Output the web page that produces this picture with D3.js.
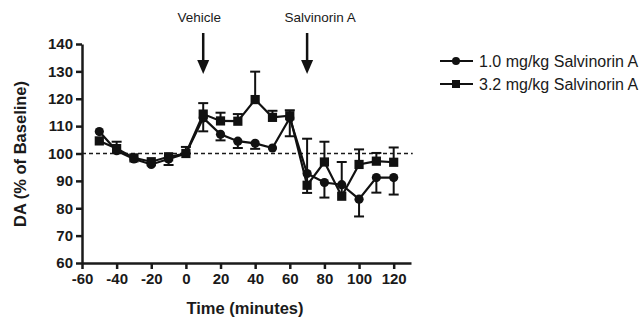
<!DOCTYPE html>
<html>
<head>
<meta charset="utf-8">
<script src="https://cdn.jsdelivr.net/npm/d3@7"></script>
<style>
  body { margin: 0; background: #fff; }
  text { font-family: "Liberation Sans", Arial, sans-serif; fill: #1a1a1a; }
</style>
</head>
<body>
<svg id="chart" width="642" height="317"></svg>
<script>
  var times = [-50, -40, -30, -20, -10, 0, 10, 20, 30, 40, 50, 60, 70, 80, 90, 100, 110, 120];

  // 1.0 mg/kg Salvinorin A (circles)
  var lowDose     = [108, 101, 98, 96, 98, 100, 113, 107, 104.5, 103.7, 102, 113, 92.7, 89.4, 88.6, 83.3, 91.2, 91.2];
  var lowDoseUp   = [0, 0, 0, 0, 0, 0, 0, 0, 0, 0, 0, 0, 0, 0, 0, 0, 0, 0];
  var lowDoseDown = [0, 0, 0, 0, 0, 0, 0, 2.2, 2.5, 2, 0, 0, 0, 5.5, 0, 6.3, 5.5, 6.2];

  // 3.2 mg/kg Salvinorin A (squares)
  var highDose     = [104.6, 101.8, 98.4, 97, 98.8, 100, 114.4, 111.9, 111.8, 119.7, 113.2, 113.8, 88.4, 96.9, 84.4, 96, 97.2, 96.8];
  var highDoseUp   = [0, 2.5, 0, 0, 0, 2.4, 4, 3, 2.6, 10.2, 2.4, 2, 17, 7.4, 12.5, 5.5, 3, 5.4];
  var highDoseDown = [0, 0, 0, 0, 3, 0, 6.3, 0, 0, 0, 0, 7.5, 2.8, 0, 0, 0, 0, 0];

  var xTicks = [-60, -40, -20, 0, 20, 40, 60, 80, 100, 120];
  var yTicks = [60, 70, 80, 90, 100, 110, 120, 130, 140];
  var injections = [{t: 10, label: 'Vehicle', dx: -4}, {t: 70, label: 'Salvinorin A', dx: 13}];
  var seriesNames = ['1.0 mg/kg Salvinorin A', '3.2 mg/kg Salvinorin A'];

  var svg = d3.select('#chart');
  var x = d3.scaleLinear().domain([-60, 130]).range([82, 411]);
  var y = d3.scaleLinear().domain([60, 140]).range([263, 44]);
  var plain = function(d){ return String(d); };

  // axes
  var xAxis = svg.append('g').attr('transform', 'translate(0,263)')
      .call(d3.axisBottom(x).tickValues(xTicks).tickFormat(plain).tickSize(6).tickPadding(4).tickSizeOuter(0));
  var yAxis = svg.append('g').attr('transform', 'translate(82,0)')
      .call(d3.axisLeft(y).tickValues(yTicks).tickFormat(plain).tickSize(6).tickPadding(3).tickSizeOuter(0));
  [xAxis, yAxis].forEach(function(a){
    a.select('.domain').attr('stroke', '#1a1a1a').attr('stroke-width', 2.5);
    a.selectAll('.tick line').attr('stroke', '#1a1a1a').attr('stroke-width', 2.5);
    a.selectAll('.tick text').style('font-size', '15px').style('font-weight', 'bold')
        .style('font-family', '"Liberation Sans", Arial, sans-serif').attr('fill', '#1a1a1a');
  });

  // baseline
  svg.append('line')
      .attr('x1', x(-60)).attr('x2', x(131)).attr('y1', y(100)).attr('y2', y(100))
      .attr('stroke', '#1a1a1a').attr('stroke-width', 1.6).attr('stroke-dasharray', '4,3');

  // axis titles
  svg.append('text')
      .attr('x', 245).attr('y', 314)
      .style('text-anchor', 'middle').style('font-size', '16.5px').style('font-weight', 'bold')
      .text('Time (minutes)');
  svg.append('text')
      .attr('transform', 'translate(26,154) rotate(-90)')
      .style('text-anchor', 'middle').style('font-size', '16.5px').style('font-weight', 'bold')
      .text('DA (% of Baseline)');

  // injection arrows
  injections.forEach(function(d){
    var cx = x(d.t);
    svg.append('line').attr('x1', cx).attr('x2', cx).attr('y1', 33).attr('y2', 62)
        .attr('stroke', '#111').attr('stroke-width', 2.5);
    svg.append('path').attr('d', 'M' + (cx - 6) + ',60L' + (cx + 6) + ',60L' + cx + ',74Z').attr('fill', '#111');
    svg.append('text').attr('x', cx + d.dx).attr('y', 22)
        .style('text-anchor', 'middle').style('font-size', '13.5px').text(d.label);
  });

  var line = d3.line().x(function(d){ return x(d.t); }).y(function(d){ return y(d.v); });

  function drawSeries(vals, up, down, shape){
    var data = times.map(function(t, i){ return {t: t, v: vals[i], up: up[i], down: down[i]}; });
    var g = svg.append('g');
    // error bars
    data.forEach(function(d){
      [d.up, -d.down].forEach(function(e){
        if (!e) { return; }
        var cx = x(d.t), yEnd = y(d.v + e);
        g.append('line').attr('x1', cx).attr('x2', cx).attr('y1', y(d.v)).attr('y2', yEnd)
            .attr('stroke', '#111').attr('stroke-width', 2);
        g.append('line').attr('x1', cx - 5).attr('x2', cx + 5).attr('y1', yEnd).attr('y2', yEnd)
            .attr('stroke', '#111').attr('stroke-width', 2);
      });
    });
    g.append('path').datum(data).attr('d', line)
        .attr('fill', 'none').attr('stroke', '#111').attr('stroke-width', 2.2);
    data.forEach(function(d){
      if (shape === 'circle') {
        g.append('circle').attr('cx', x(d.t)).attr('cy', y(d.v)).attr('r', 4.6).attr('fill', '#111');
      } else {
        g.append('rect').attr('x', x(d.t) - 4.6).attr('y', y(d.v) - 4.6)
            .attr('width', 9.2).attr('height', 9.2).attr('fill', '#111');
      }
    });
  }

  drawSeries(lowDose, lowDoseUp, lowDoseDown, 'circle');
  drawSeries(highDose, highDoseUp, highDoseDown, 'square');

  // legend
  var legend = svg.append('g');
  seriesNames.forEach(function(name, i){
    var ly = 61 + i * 23;
    legend.append('line').attr('x1', 440).attr('x2', 473).attr('y1', ly).attr('y2', ly)
        .attr('stroke', '#111').attr('stroke-width', 2);
    if (i === 0) {
      legend.append('circle').attr('cx', 456).attr('cy', ly).attr('r', 4).attr('fill', '#111');
    } else {
      legend.append('rect').attr('x', 452).attr('y', ly - 4).attr('width', 8).attr('height', 8).attr('fill', '#111');
    }
    legend.append('text').attr('x', 479).attr('y', ly + 6)
        .style('font-size', '16px').text(name);
  });
</script>
</body>
</html>
